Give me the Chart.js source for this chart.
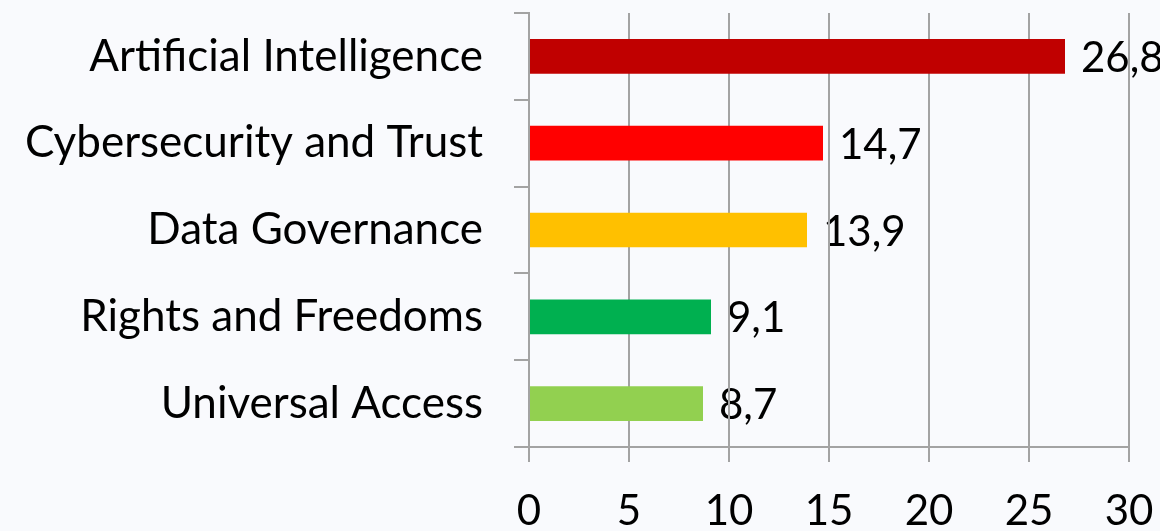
<!DOCTYPE html>
<html>
<head>
<meta charset="utf-8">
<script src="https://cdn.jsdelivr.net/npm/chart.js@4/dist/chart.umd.min.js"></script>
<style>
  html, body { margin: 0; padding: 0; background: #f9fafd; }
  canvas { display: block; }
</style>
</head>
<body>
<canvas class="mychart" width="1160" height="531"></canvas>
<script>
/* dados do grafico */
const categorias = ['Artificial Intelligence', 'Cybersecurity and Trust', 'Data Governance', 'Rights and Freedoms', 'Universal Access']
const valores = [26.8, 14.7, 13.9, 9.1, 8.7]
const cores = ['#C00000', '#FF0000', '#FFC000', '#00B050', '#92D050']
const ticksX = [0, 5, 10, 15, 20, 25, 30]

const fonteNum = { family: 'Lato', size: 42 }
const fonteCat = { family: 'Lato', size: 44 }

// rotulos de valor desenhados antes da grade (a grade passa por cima como na imagem)
const rotulos = {
    id: 'rotulos',
    beforeDraw(chart) {
        const ctx = chart.ctx
        const meta = chart.getDatasetMeta(0)
        ctx.save()
        ctx.font = fonteNum.size + 'px ' + fonteNum.family
        ctx.fillStyle = '#000'
        ctx.textAlign = 'left'
        ctx.textBaseline = 'middle'
        meta.data.forEach((bar, i) => {
            ctx.fillText(String(valores[i]).replace('.', ','), bar.x + 16, bar.y + 2)
        })
        ctx.restore()
    }
}

let graf = document.querySelector('.mychart').getContext('2d')

const config = {
    type: 'bar',
    data: {
        labels: categorias,
        datasets: [{
            data: valores,
            backgroundColor: cores,
            categoryPercentage: 1,
            barPercentage: 0.4
        }]
    },
    options: {
        indexAxis: 'y',
        responsive: false,
        animation: false,
        layout: { padding: { top: 13, right: 31, left: 0, bottom: 0 } },
        plugins: { legend: { display: false }, tooltip: { enabled: false } },
        scales: {
            x: {
                min: 0,
                max: 30,
                afterBuildTicks: s => { s.ticks = ticksX.map(v => ({ value: v })) },
                afterFit: s => { s.height = 84; s.paddingLeft = 0; s.paddingRight = 0 },
                grid: { color: '#a3a3a3', lineWidth: 2, tickLength: 15 },
                border: { color: '#a3a3a3', width: 2 },
                ticks: { color: '#000', font: fonteNum, padding: 24 }
            },
            y: {
                afterFit: s => { s.width = 529; s.paddingTop = 0; s.paddingBottom = 0 },
                grid: { drawOnChartArea: false, color: '#a3a3a3', lineWidth: 2, tickLength: 15 },
                border: { color: '#a3a3a3', width: 2 },
                ticks: { color: '#000', font: fonteCat, padding: 31 }
            }
        }
    },
    plugins: [rotulos]
}

var myChart = new Chart(graf, config)
</script>
</body>
</html>
